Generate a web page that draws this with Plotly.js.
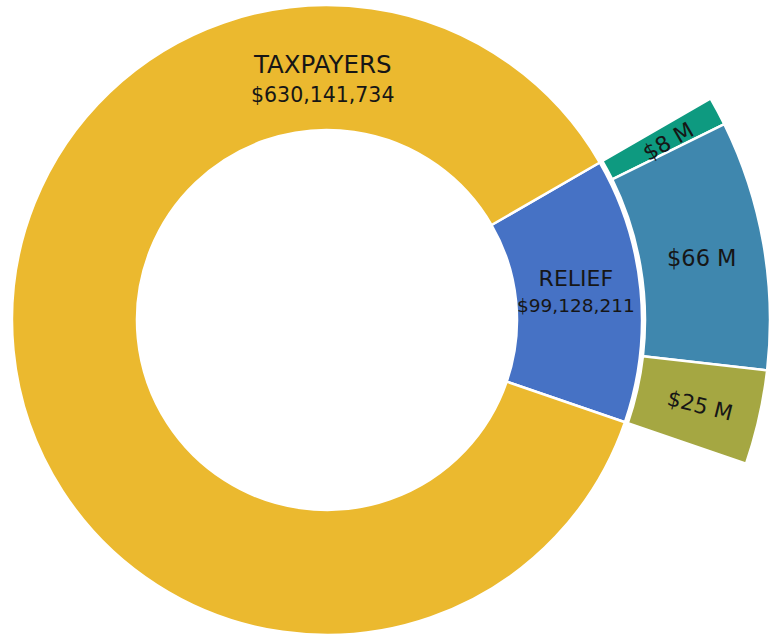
<!DOCTYPE html>
<html>
<head>
<meta charset="utf-8">
<script src="https://cdn.plot.ly/plotly-3.0.1.min.js"></script>
<style>
  html, body { margin: 0; padding: 0; width: 769px; height: 637px; overflow: hidden; background: #ffffff; }
  #chart { position: absolute; left: -116px; top: -123px; width: 886px; height: 886px; }
</style>
</head>
<body>
<div id="chart"></div>
<script>
// ---- data ----
var groupLabels = ['RELIEF', 'TAXPAYERS'];
var groupValues = [99128211, 630141734];
var reliefLabels = ['$8 M', '$66 M', '$25 M'];
var reliefValues = [7600000, 66400000, 25100000];

// ---- styles ----
var groupColors = ['#4672C5', '#EBB92F'];
var reliefColors = ['#0E9A80', '#3F87AE', '#A5A742'];
var textColor = '#161616';
var fontFamily = 'DejaVu Sans, sans-serif';

function money(v) { return '$' + v.toLocaleString('en-US'); }
function twoLine(a, b, sa, sb) {
  return '<span style="font-size:' + sa + 'px">' + a + '</span><br>' +
         '<span style="font-size:' + sb + 'px">' + b + '</span>';
}

var SIZE = 886;              // plot div size in px
var R_OUTER = 443, R_OUTER_HOLE = 318, R_INNER = 315, R_INNER_HOLE = 190;
var half = R_INNER / SIZE;

var inner = {
  type: 'pie',
  labels: groupLabels,
  values: groupValues,
  sort: false,
  direction: 'clockwise',
  rotation: 60,
  hole: R_INNER_HOLE / R_INNER,
  domain: { x: [0.5 - half, 0.5 + half], y: [0.5 - half, 0.5 + half] },
  marker: { colors: groupColors, line: { color: '#ffffff', width: 2.5 } },
  textinfo: 'none',
  hoverinfo: 'skip',
  showlegend: false
};

var outer = {
  type: 'pie',
  labels: reliefLabels.concat(['rest']),
  values: reliefValues.concat([groupValues[1]]),
  sort: false,
  direction: 'clockwise',
  rotation: 60,
  hole: R_OUTER_HOLE / R_OUTER,
  domain: { x: [0, 1], y: [0, 1] },
  marker: {
    colors: reliefColors.concat(['rgba(0,0,0,0)']),
    line: { color: '#ffffff', width: [2.5, 2.5, 2.5, 0] }
  },
  textinfo: 'none',
  hoverinfo: 'skip',
  showlegend: false
};

// label anchor positions (window px) -> paper coords
function px(x) { return (x + 116) / SIZE; }
function py(y) { return 1 - (y + 123) / SIZE; }

var labelSpecs = [
  { text: twoLine(groupLabels[1], money(groupValues[1]), 24.5, 20.5), x: 322, y: 78, size: 22, angle: 0 },
  { text: twoLine(groupLabels[0], money(groupValues[0]), 22, 18.5), x: 576, y: 291, size: 20, angle: 0 },
  { text: reliefLabels[0], x: 668, y: 141, size: 22, angle: -30 },
  { text: reliefLabels[1], x: 702, y: 258, size: 22.5, angle: 0 },
  { text: reliefLabels[2], x: 700, y: 405, size: 21.5, angle: 14 }
];

var annotations = labelSpecs.map(function (s) {
  return {
    xref: 'paper', yref: 'paper', x: px(s.x), y: py(s.y),
    xanchor: 'center', yanchor: 'middle',
    text: s.text, showarrow: false, textangle: s.angle,
    font: { family: fontFamily, size: s.size, color: textColor }
  };
});

var layout = {
  width: SIZE, height: SIZE,
  margin: { l: 0, r: 0, t: 0, b: 0 },
  paper_bgcolor: '#ffffff',
  plot_bgcolor: '#ffffff',
  showlegend: false,
  annotations: annotations
};

Plotly.newPlot('chart', [outer, inner], layout, { displayModeBar: false, staticPlot: true });
</script>
</body>
</html>
